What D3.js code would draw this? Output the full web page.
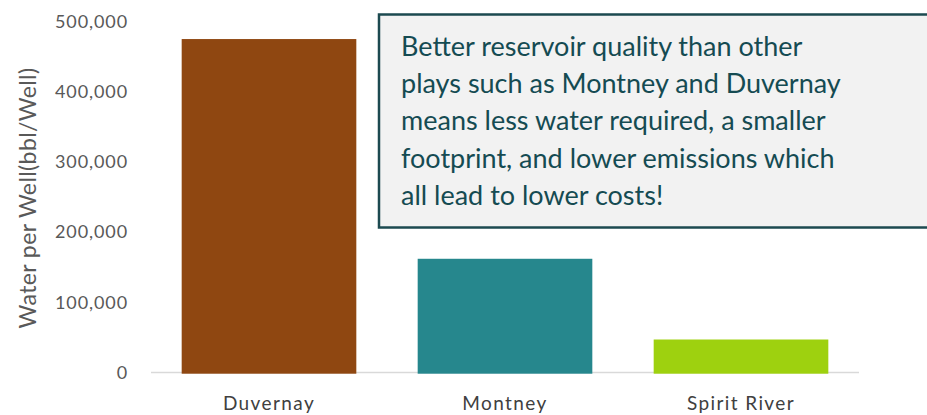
<!DOCTYPE html>
<html><head><meta charset="utf-8">
<script src="https://cdn.jsdelivr.net/npm/d3@7"></script>
<style>body{margin:0;background:#fff}svg{display:block}</style>
</head><body>
<script>
const categories = ["Duvernay", "Montney", "Spirit River"];
const values = [475000, 162000, 47000];
const colors = ["#8f4711", "#26878d", "#9ed10f"];
const yTicks = [0, 100000, 200000, 300000, 400000, 500000];
const yTitle = "Water per Well(bbl/Well)";
const noteLines = [
  "Better reservoir quality than other",
  "plays such  as Montney and Duvernay",
  "means less water required, a smaller",
  "footprint, and lower emissions which",
  "all lead to lower costs!"
];

const W = 927, H = 415;
const svg = d3.select("body").append("svg").attr("width", W).attr("height", H);
const x = d3.scaleBand().domain(categories).range([151, 859]).paddingInner(0.26).paddingOuter(0.13);
const y = d3.scaleLinear().domain([0, 500000]).range([372.5, 21.5]);

// y axis labels
const yAxis = svg.append("g").attr("transform", "translate(128,0)")
  .call(d3.axisLeft(y).tickValues(yTicks).tickSize(0).tickPadding(0).tickFormat(d3.format(",")));
yAxis.select(".domain").remove();
yAxis.selectAll("text").attr("fill", "#595959").style("font-family", "Lato, 'Open Sans', sans-serif")
  .style("font-size", "18px").style("letter-spacing", "0.9px");

// baseline
svg.append("line").attr("x1", 151).attr("x2", 859).attr("y1", y(0)).attr("y2", y(0))
  .attr("stroke", "#d9d9d9").attr("stroke-width", 1.5);

// bars
svg.selectAll("rect.bar").data(categories).join("rect").attr("class", "bar")
  .attr("x", d => x(d)).attr("width", x.bandwidth())
  .attr("y", (d, i) => y(values[i])).attr("height", (d, i) => y(0) - y(values[i]) + 1.2)
  .attr("fill", (d, i) => colors[i]);

// x labels
const xAxis = svg.append("g").attr("transform", `translate(0,${y(0)})`)
  .call(d3.axisBottom(x).tickSize(0).tickPadding(24));
xAxis.select(".domain").remove();
xAxis.selectAll("text").attr("fill", "#404040").style("font-family", "Lato, 'Open Sans', sans-serif")
  .style("font-size", "19px").style("letter-spacing", "1.4px");

// y title
svg.append("text").attr("transform", "translate(36,198) rotate(-90)").attr("text-anchor", "middle")
  .attr("fill", "#595959").style("font-family", "Lato, 'Open Sans', sans-serif").style("font-size", "23px")
  .style("letter-spacing", "0.4px")
  .text(yTitle);

// note box
svg.append("rect").attr("x", 379).attr("y", 14.5).attr("width", 600).attr("height", 213)
  .attr("fill", "#f2f2f2").attr("stroke", "#1c4a50").attr("stroke-width", 2.5);
const note = svg.append("text").attr("fill", "#154b52")
  .style("font-family", "Lato, 'Open Sans', sans-serif").style("font-size", "27px");
noteLines.forEach((t, i) => {
  note.append("tspan").attr("x", 401).attr("y", 56 + i * 37.2).text(t);
});
</script>
</body></html>
